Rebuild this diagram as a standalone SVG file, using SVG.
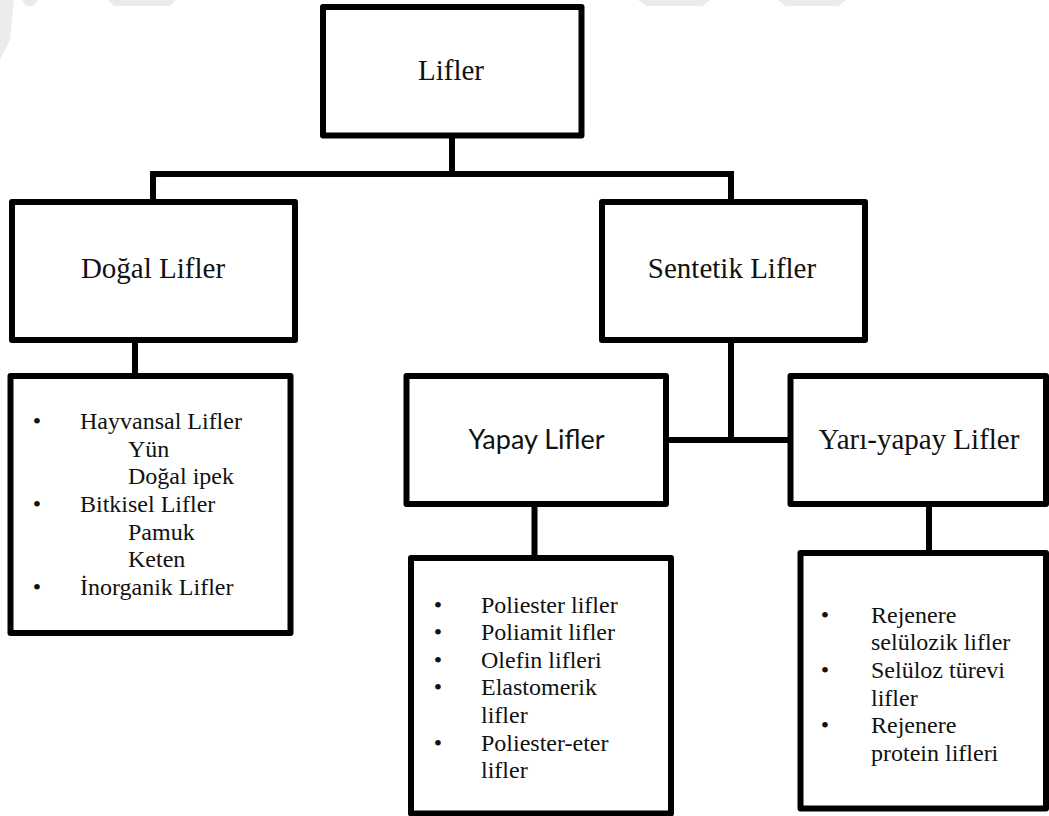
<svg xmlns="http://www.w3.org/2000/svg" width="1049" height="816" viewBox="0 0 1049 816">
  <style>
    .box { fill: #ffffff; stroke: #000000; stroke-width: 6; stroke-linejoin: round; }
    .wire { fill: none; stroke: #000000; stroke-width: 6; stroke-linecap: butt; }
    .head { font-family: "Liberation Serif", "Times New Roman", serif; font-size: 29px; fill: #111111; text-anchor: middle; }
    .head-sans { font-family: Lato, "Open Sans", sans-serif; font-size: 27px; fill: #111111; text-anchor: middle; }
    .item { font-family: "Liberation Serif", "Times New Roman", serif; font-size: 24px; fill: #111111; }
    .dot { font-family: "Liberation Serif", "Times New Roman", serif; font-size: 24px; fill: #111111; text-anchor: middle; }
    .mark { fill: #ebebeb; }
  </style>

  <rect x="0" y="0" width="1049" height="816" fill="#ffffff"/>

  <!-- faint background marks along the top edge -->
  <g id="backdrop">
    <polygon class="mark" points="0,0 14,0 10,40 0,60"/>
    <polygon class="mark" points="22,0 38,0 34,6 26,6"/>
    <polygon class="mark" points="108,0 176,0 170,6 114,6"/>
    <polygon class="mark" points="638,0 710,0 702,6 646,6"/>
    <polygon class="mark" points="778,0 846,0 838,6 786,6"/>
  </g>

  <!-- connectors -->
  <g id="connectors">
    <line class="wire" x1="452" y1="135" x2="452" y2="174"/>
    <line class="wire" x1="150" y1="174" x2="734" y2="174"/>
    <line class="wire" x1="153" y1="171" x2="153" y2="202"/>
    <line class="wire" x1="731" y1="171" x2="731" y2="202"/>
    <line class="wire" x1="135" y1="340" x2="135" y2="376"/>
    <line class="wire" x1="731" y1="340" x2="731" y2="440"/>
    <line class="wire" x1="666" y1="440" x2="791" y2="440"/>
    <line class="wire" x1="534.5" y1="504" x2="534.5" y2="558"/>
    <line class="wire" x1="929" y1="504" x2="929" y2="553"/>
  </g>

  <g id="node-lifler">
    <rect class="box" x="323" y="7" width="258.5" height="128.5"/>
    <text class="head" x="451" y="80">Lifler</text>
  </g>

  <g id="node-dogal">
    <rect class="box" x="12" y="202" width="283" height="138"/>
    <text class="head" x="153" y="278">Doğal Lifler</text>
  </g>

  <g id="node-sentetik">
    <rect class="box" x="602" y="202" width="263" height="138"/>
    <text class="head" x="732" y="278">Sentetik Lifler</text>
  </g>

  <g id="node-dogal-list">
    <rect class="box" x="10.5" y="376" width="280" height="257"/>
    <text class="dot" x="37" y="429">•</text>
    <text class="item" x="80" y="429">Hayvansal Lifler</text>
    <text class="item" x="128" y="457">Yün</text>
    <text class="item" x="128" y="484">Doğal ipek</text>
    <text class="dot" x="37" y="512">•</text>
    <text class="item" x="80" y="512">Bitkisel Lifler</text>
    <text class="item" x="128" y="540">Pamuk</text>
    <text class="item" x="128" y="567">Keten</text>
    <text class="dot" x="37" y="595">•</text>
    <text class="item" x="80" y="595">İnorganik Lifler</text>
  </g>

  <g id="node-yapay">
    <rect class="box" x="406.5" y="376" width="259.5" height="128"/>
    <text class="head-sans" x="536.5" y="449">Yapay Lifler</text>
  </g>

  <g id="node-yari-yapay">
    <rect class="box" x="790.5" y="376" width="255.5" height="128"/>
    <text class="head" x="919" y="449">Yarı-yapay Lifler</text>
  </g>

  <g id="node-yapay-list">
    <rect class="box" x="411" y="558" width="260" height="255.5"/>
    <text class="dot" x="438" y="613">•</text>
    <text class="item" x="481" y="613">Poliester lifler</text>
    <text class="dot" x="438" y="640">•</text>
    <text class="item" x="481" y="640">Poliamit lifler</text>
    <text class="dot" x="438" y="668">•</text>
    <text class="item" x="481" y="668">Olefin lifleri</text>
    <text class="dot" x="438" y="695">•</text>
    <text class="item" x="481" y="695">Elastomerik</text>
    <text class="item" x="481" y="723">lifler</text>
    <text class="dot" x="438" y="751">•</text>
    <text class="item" x="481" y="751">Poliester-eter</text>
    <text class="item" x="481" y="778">lifler</text>
  </g>

  <g id="node-yari-yapay-list">
    <rect class="box" x="800.5" y="553" width="245.5" height="255.5"/>
    <text class="dot" x="825" y="623">•</text>
    <text class="item" x="871" y="623">Rejenere</text>
    <text class="item" x="871" y="650">selülozik lifler</text>
    <text class="dot" x="825" y="678">•</text>
    <text class="item" x="871" y="678">Selüloz türevi</text>
    <text class="item" x="871" y="706">lifler</text>
    <text class="dot" x="825" y="733">•</text>
    <text class="item" x="871" y="733">Rejenere</text>
    <text class="item" x="871" y="761">protein lifleri</text>
  </g>
</svg>
